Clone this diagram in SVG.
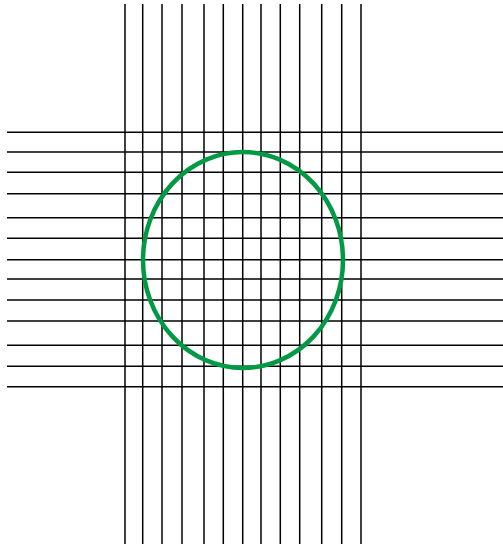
<svg xmlns="http://www.w3.org/2000/svg" width="503" height="547" viewBox="0 0 503 547">
<style>
.g line{stroke:#000;stroke-width:1.5}
.c{fill:none;stroke:#009a44;stroke-width:4.5}
</style>
<rect width="503" height="547" fill="#fff"/>
<g id="vertical" class="g">
<line x1="125" y1="4" x2="125" y2="544"/>
<line x1="142.7" y1="4" x2="142.7" y2="544"/>
<line x1="162" y1="4" x2="162" y2="544"/>
<line x1="182" y1="4" x2="182" y2="544"/>
<line x1="204" y1="4" x2="204" y2="544"/>
<line x1="223.3" y1="4" x2="223.3" y2="544"/>
<line x1="242.7" y1="4" x2="242.7" y2="544"/>
<line x1="261" y1="4" x2="261" y2="544"/>
<line x1="280.3" y1="4" x2="280.3" y2="544"/>
<line x1="299.7" y1="4" x2="299.7" y2="544"/>
<line x1="321.7" y1="4" x2="321.7" y2="544"/>
<line x1="341.7" y1="4" x2="341.7" y2="544"/>
<line x1="361" y1="4" x2="361" y2="544"/>
</g>
<g id="horizontal" class="g">
<line x1="7" y1="132.3" x2="503" y2="132.3"/>
<line x1="7" y1="152" x2="503" y2="152"/>
<line x1="7" y1="172.3" x2="503" y2="172.3"/>
<line x1="7" y1="193.7" x2="503" y2="193.7"/>
<line x1="7" y1="217.7" x2="503" y2="217.7"/>
<line x1="7" y1="238.3" x2="503" y2="238.3"/>
<line x1="7" y1="259.7" x2="503" y2="259.7"/>
<line x1="7" y1="279" x2="503" y2="279"/>
<line x1="7" y1="300" x2="503" y2="300"/>
<line x1="7" y1="321" x2="503" y2="321"/>
<line x1="7" y1="345.3" x2="503" y2="345.3"/>
<line x1="7" y1="366.3" x2="503" y2="366.3"/>
<line x1="7" y1="386.7" x2="503" y2="386.7"/>
</g>
<g id="circle">
<ellipse class="c" cx="243" cy="260" rx="100" ry="108"/>
</g>
</svg>
